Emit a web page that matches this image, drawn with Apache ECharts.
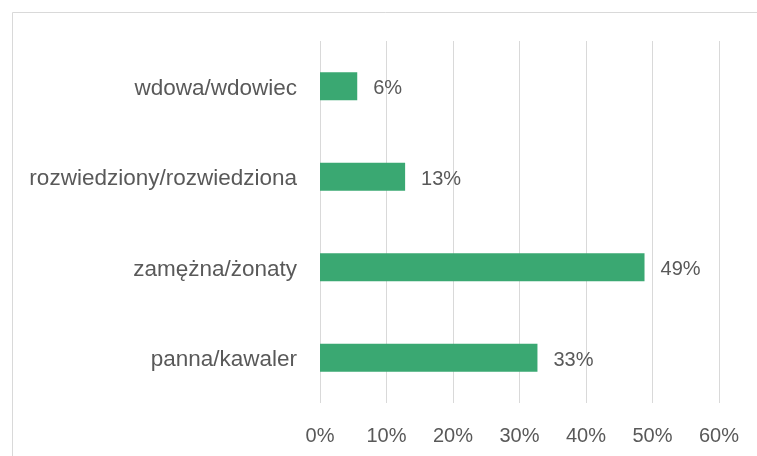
<!DOCTYPE html>
<html>
<head>
<meta charset="utf-8">
<script src="https://cdn.jsdelivr.net/npm/echarts@6/dist/echarts.min.js"></script>
<style>
html,body{margin:0;padding:0;background:#fff;}
#c{width:757px;height:456px;}
</style>
</head>
<body>
<div id="c"></div>
<script>
// Data (bottom to top)
const categories = ['panna/kawaler', 'zamężna/żonaty', 'rozwiedziony/rozwiedziona', 'wdowa/wdowiec'];
const values = [32.7, 48.8, 12.8, 5.6];
const tickMax = 60;
const tickStep = 10;

const FONT = '"Liberation Sans", Arial, sans-serif';
const TEXT = '#595959';
const chart = echarts.init(document.getElementById('c'), null, {renderer: 'canvas'});
chart.setOption({
  animation: false,
  backgroundColor: '#ffffff',
  graphic: [{
    type: 'rect', silent: true, z: -10,
    shape: {x: 12.5, y: 12.5, width: 800, height: 500},
    style: {fill: 'none', stroke: '#d9d9d9', lineWidth: 1}
  }],
  grid: {left: 320, right: 38, top: 41, bottom: 53, containLabel: false},
  xAxis: {
    type: 'value', min: 0, max: tickMax, interval: tickStep,
    axisLine: {show: false}, axisTick: {show: false},
    splitLine: {show: true, lineStyle: {color: '#d9d9d9', width: 1}},
    axisLabel: {formatter: '{value}%', color: TEXT, fontFamily: FONT, fontSize: 20, margin: 23}
  },
  yAxis: {
    type: 'category', data: categories,
    axisLine: {show: false}, axisTick: {show: false},
    axisLabel: {
      color: TEXT, fontFamily: FONT, fontSize: 22.5, margin: 23,
      formatter: v => '{a|' + v + '}',
      rich: {a: {color: TEXT, fontFamily: FONT, fontSize: 22.5, padding: [5, 0, 0, 0]}}
    }
  },
  series: [{
    type: 'bar', data: values, barWidth: 28,
    itemStyle: {color: '#3aa872'},
    label: {show: true, position: 'right', distance: 16, offset: [0, 2.5], color: TEXT, fontFamily: FONT, fontSize: 20,
      formatter: p => Math.round(p.value) + '%'}
  }]
});
</script>
</body>
</html>
